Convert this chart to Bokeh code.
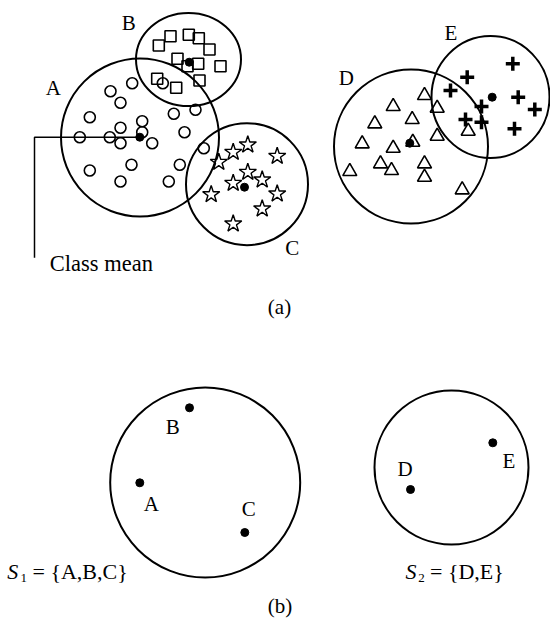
from bokeh.plotting import figure
from bokeh.models import Range1d
from bokeh.core.properties import value
from bokeh.embed import file_html
from bokeh.resources import INLINE

# ---------------- Part (a): class members (diagram units, y grows downward)
class_A_x = [131.7, 110, 120, 89.3, 141.7, 120, 141.7, 79.3, 109.3, 120, 151.7,
             173.3, 195, 184, 162.3, 203.3, 179.3, 131, 89.3, 120, 168.3]
class_A_y = [82.7, 90.7, 102.3, 116.7, 120.7, 127.3, 131.7, 136.7, 136.7, 142.7, 142.7,
             113.3, 109.3, 131.7, 82.7, 147.7, 164.3, 164.3, 170, 181, 181]

class_B_x = [158.3, 170, 188.3, 198.3, 209, 177, 187, 197.7, 220, 156.7, 175.7, 199]
class_B_y = [45, 35.7, 34.3, 37.7, 49, 58.3, 65.7, 63.3, 65.7, 78.3, 87.3, 80]

class_C_x = [247.3, 232.7, 218.3, 276.7, 247.3, 232.7, 261.7, 210.7, 276.7, 261.7, 232.7]
class_C_y = [144.3, 151.7, 161.7, 155.7, 171.7, 182.7, 179.3, 194, 193.3, 208.3, 223.3]

class_D_x = [424, 392.7, 436.7, 374.3, 411.7, 467.7, 361.7, 392.7, 412.3, 436.7,
             349.3, 380, 391, 424, 424, 461.7]
class_D_y = [95, 106, 107.7, 123.3, 119, 130.7, 143.3, 147.7, 141.7, 135.7,
             171, 163.3, 170, 163.3, 176.7, 189.3]

class_E_x = [512.3, 466.7, 450, 517.7, 534.3, 481, 465, 481, 514]
class_E_y = [63.3, 76.7, 90, 96.7, 109, 106, 119, 121.7, 128.3]

# class boundaries (a)
class_names = ["A", "B", "C", "D", "E"]
class_cx = [139.5, 188, 246.5, 410.5, 490]
class_cy = [137, 59, 183.7, 146, 96.5]
class_w = [158, 105, 122, 154, 118]
class_h = [158, 93, 122, 154, 122]
class_mean_x = [139.3, 188.7, 244, 409.3, 491.7]
class_mean_y = [136.7, 61.7, 186.7, 142.7, 96.7]
class_label_x = [52.8, 128.3, 291.7, 345.8, 450.3]
class_label_y = [87.7, 22.2, 247.8, 77, 32.2]

# ---------------- Part (b): super-classes of means
super_cx = [204.7, 451]
super_cy = [482, 467]
super_d = [190, 154]
mean_b_names = ["A", "B", "C", "D", "E"]
mean_b_x = [139.3, 189, 244.3, 410, 492.3]
mean_b_y = [482.3, 407.3, 532, 489, 442.3]
mean_b_label_x = [150.8, 172.3, 248.3, 404.7, 508.3]
mean_b_label_y = [503.7, 426.3, 508.3, 468.5, 460.8]

FONT = value("Liberation Serif")
FS = "21px"

p = figure(width=550, height=620, x_range=Range1d(0, 550), y_range=Range1d(620, 0),
           output_backend="svg", toolbar_location=None, min_border=0, title=None,
           x_axis_location=None, y_axis_location=None)
p.grid.visible = False
p.outline_line_color = None
p.background_fill_color = "white"
p.border_fill_color = "white"

# class boundaries
p.ellipse(x=class_cx, y=class_cy, width=class_w, height=class_h,
          fill_alpha=0, line_color="black", line_width=2)

# members
p.scatter(class_A_x, class_A_y, marker="circle", size=11, fill_alpha=0,
          line_color="black", line_width=1.6)
p.scatter(class_B_x, class_B_y, marker="square", size=11, fill_alpha=0,
          line_color="black", line_width=1.6)
p.scatter(class_C_x, class_C_y, marker="star", size=18, fill_alpha=0,
          line_color="black", line_width=1.4)
p.scatter(class_D_x, class_D_y, marker="triangle", size=14, fill_alpha=0,
          line_color="black", line_width=1.6)
p.scatter(class_E_x, class_E_y, marker="cross", size=14,
          line_color="black", line_width=3.5)

# class means
p.scatter(class_mean_x, class_mean_y, marker="circle", size=8, fill_color="black",
          line_color="black")

# class labels
p.text(x=class_label_x, y=class_label_y, text=class_names, text_font=FONT,
       text_font_size=FS, text_align="center", text_baseline="middle", text_color="black")

# "Class mean" pointer
p.line(x=[class_mean_x[0], 34, 34], y=[class_mean_y[0], class_mean_y[0], 257.3],
       line_color="black", line_width=1.5)
p.text(x=[49.3], y=[262.5], text=["Class mean"], text_font=FONT, text_font_size="22.5px",
       text_align="left", text_baseline="middle", text_color="black")

p.text(x=[279], y=[306], text=["(a)"], text_font=FONT, text_font_size=FS,
       text_align="center", text_baseline="middle", text_color="black")

# ---------------- part (b)
p.ellipse(x=super_cx, y=super_cy, width=super_d, height=super_d,
          fill_alpha=0, line_color="black", line_width=2)
p.scatter(mean_b_x, mean_b_y, marker="circle", size=8, fill_color="black",
          line_color="black")
p.text(x=mean_b_label_x, y=mean_b_label_y, text=mean_b_names, text_font=FONT,
       text_font_size=FS, text_align="center", text_baseline="middle", text_color="black")

# set names
p.text(x=[6.7, 405], y=[571, 571], text=["S", "S"], text_font=FONT, text_font_size="22px",
       text_font_style="italic", text_align="left", text_baseline="middle", text_color="black")
p.text(x=[20, 417.7], y=[577.5, 577.5], text=["1", "2"], text_font=FONT, text_font_size="13px",
       text_align="left", text_baseline="middle", text_color="black")
p.text(x=[32, 429.5], y=[571, 571], text=["= {A,B,C}", "= {D,E}"], text_font=FONT,
       text_font_size="22px", text_align="left", text_baseline="middle", text_color="black")

p.text(x=[279.5], y=[605], text=["(b)"], text_font=FONT, text_font_size=FS,
       text_align="center", text_baseline="middle", text_color="black")

open("out.html", "w").write(file_html(p, INLINE))
